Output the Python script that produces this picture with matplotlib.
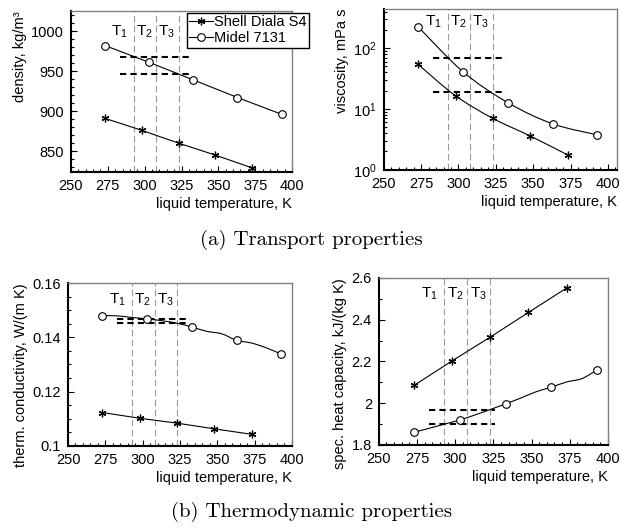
import numpy as np
import matplotlib
matplotlib.use('Agg')
import matplotlib.pyplot as plt
from matplotlib.path import Path
from matplotlib.patches import PathPatch
from matplotlib.ticker import MultipleLocator, FuncFormatter, LogLocator

plt.rcParams['font.family'] = ['Liberation Sans', 'DejaVu Sans']
plt.rcParams['mathtext.fontset'] = 'custom'
plt.rcParams['mathtext.rm'] = 'Liberation Sans'
plt.rcParams['mathtext.it'] = 'Liberation Sans:italic'
plt.rcParams['font.size'] = 10

# %%
# data
t_shell = [273, 298, 323, 348, 373]
t_midel = [273, 303, 333, 363, 393]
t_midel_fine = [273, 283, 293, 303, 313, 323, 333, 343, 353, 363, 373, 383, 393]

dens_shell = [891, 876, 860, 845, 829]
dens_midel = [982, 961, 939, 917, 896]

visc_shell = [54, 16.5, 7.0, 3.6, 1.76]
visc_midel = [224, 41, 12.7, 5.7, 3.75]

cond_shell = [0.1123, 0.1102, 0.1084, 0.1063, 0.1043]
cond_midel = [0.1480, 0.1468, 0.1438, 0.1389, 0.1338]
cond_midel_fine = [0.1480, 0.1479, 0.1473, 0.1468, 0.1461, 0.1452, 0.1438,
                   0.1422, 0.1413, 0.1389, 0.1379, 0.1361, 0.1338]

cp_shell = [2.085, 2.203, 2.317, 2.435, 2.552]
cp_midel = [1.861, 1.920, 1.997, 2.077, 2.160]
cp_midel_fine = [1.861, 1.880, 1.900, 1.920, 1.944, 1.970, 1.997,
                 2.025, 2.055, 2.077, 2.102, 2.118, 2.160]

# temperature bands and reference lines
t_bounds = [293, 308, 323]
t_names = ['T$_1$', 'T$_2$', 'T$_3$']
t_name_x = [283, 300, 315]
dens_ref = [968, 947]
visc_ref = [70, 18.8]
cond_ref = [0.1468, 0.1453]
cp_ref = [1.968, 1.902]
ref_span = [283, 332]
cp_ref_span = [283, 326]

# %%
star = (6, 2, 0)
mk_star = dict(marker=star, ms=5.5, mew=0.9)
mk_circ = dict(marker='o', ms=5.5, mfc='white', mew=0.8)


def smooth(ax, x, y, logy=False):
    # excel style smoothed line (bezier through the points)
    x = np.asarray(x, float)
    y = np.log10(y) if logy else np.asarray(y, float)
    n = len(x)
    verts = [(x[0], y[0])]
    codes = [Path.MOVETO]
    for i in range(n - 1):
        a = i - 1 if i > 0 else i
        b = i + 2 if i + 2 < n else i + 1
        verts.append((x[i] + (x[i + 1] - x[a]) / 6, y[i] + (y[i + 1] - y[a]) / 6))
        verts.append((x[i + 1] - (x[b] - x[i]) / 6, y[i + 1] - (y[b] - y[i]) / 6))
        verts.append((x[i + 1], y[i + 1]))
        codes += [Path.CURVE4] * 3
    verts = np.array(verts)
    if logy:
        verts[:, 1] = 10 ** verts[:, 1]
    ax.add_patch(PathPatch(Path(verts, codes), fill=False, ec='k', lw=0.8, zorder=3))


def style(ax, ylabel, xmax=400):
    ax.set_xlim(250, xmax)
    ax.set_xticks([250, 275, 300, 325, 350, 375, 400])
    ax.xaxis.set_minor_locator(MultipleLocator(5))
    ax.tick_params(which='both', direction='in', top=False, right=False, width=0.8, colors='k')
    ax.tick_params(which='major', length=4, pad=5, labelsize=10.5)
    ax.tick_params(which='minor', length=2)
    for s in ['left', 'bottom']:
        ax.spines[s].set_linewidth(1.5)
        ax.spines[s].set_color('k')
    for s in ['top', 'right']:
        ax.spines[s].set_linewidth(1.0)
        ax.spines[s].set_color('#808080')
    ax.set_xlabel('liquid temperature, K', loc='right', fontsize=10.5, labelpad=3)
    ax.set_ylabel(ylabel, loc='top', fontsize=10.5, labelpad=3)
    for tb in t_bounds:
        ax.axvline(tb, color='#999999', lw=0.8, ls=(0, (6, 3)), zorder=1)


def bands(ax, y_txt):
    tr = ax.get_xaxis_transform()
    for xx, nm in zip(t_name_x, t_names):
        ax.text(xx, y_txt, nm, transform=tr, ha='center', va='center', fontsize=11)


def refs(ax, vals, span):
    for v in vals:
        ax.plot(span, [v, v], color='k', lw=1.5, ls=(0, (3, 2)), zorder=2)


fig = plt.figure(figsize=(6.2, 5.29), dpi=100)

# %%
# (a) density
ax1 = fig.add_axes([0.1145, 0.675, 0.3565, 0.304])
l1, = ax1.plot(t_shell, dens_shell, color='k', lw=0.8, zorder=3, **mk_star)
l2, = ax1.plot(t_midel, dens_midel, color='k', lw=0.8, zorder=3, **mk_circ)
refs(ax1, dens_ref, ref_span)
ax1.set_ylim(824, 1025)
ax1.set_yticks([850, 900, 950, 1000])
ax1.yaxis.set_minor_locator(MultipleLocator(10))
style(ax1, 'density, kg/m³')
bands(ax1, 0.87)
fig.legend([l1, l2], ['Shell Diala S4', 'Midel 7131'], loc='upper left',
           bbox_to_anchor=(187 / 620, 1 - 13 / 529), fontsize=10.5, frameon=True,
           fancybox=False, edgecolor='k', framealpha=1, handlelength=1.6,
           handletextpad=0.1, borderpad=0.15, labelspacing=0.15, borderaxespad=0)

# %%
# (a) viscosity
ax2 = fig.add_axes([0.619, 0.679, 0.376, 0.304])
ax2.set_yscale('log')
smooth(ax2, t_shell, visc_shell, logy=True)
smooth(ax2, t_midel, visc_midel, logy=True)
ax2.plot(t_shell, visc_shell, ls='none', color='k', zorder=4, **mk_star)
ax2.plot(t_midel, visc_midel, ls='none', color='k', zorder=4, **mk_circ)
refs(ax2, visc_ref, ref_span)
ax2.set_ylim(1, 440)
ax2.yaxis.set_major_locator(LogLocator(base=10, numticks=5))
ax2.yaxis.set_minor_locator(LogLocator(base=10, subs=np.arange(2, 10), numticks=12))
style(ax2, 'viscosity, mPa s', xmax=406)
bands(ax2, 0.92)

# %%
# (b) thermal conductivity
ax3 = fig.add_axes([0.1097, 0.157, 0.361, 0.308])
ax3.plot(t_shell, cond_shell, color='k', lw=0.8, zorder=3, **mk_star)
smooth(ax3, t_midel_fine, cond_midel_fine)
ax3.plot(t_midel, cond_midel, ls='none', color='k', zorder=4, **mk_circ)
refs(ax3, cond_ref, ref_span)
ax3.set_ylim(0.1, 0.16)
ax3.set_yticks([0.1, 0.12, 0.14, 0.16])
ax3.yaxis.set_minor_locator(MultipleLocator(0.005))
ax3.yaxis.set_major_formatter(FuncFormatter(lambda v, p: '%g' % round(v, 3)))
style(ax3, 'therm. conductivity, W/(m K)')
bands(ax3, 0.896)

# %%
# (b) heat capacity
ax4 = fig.add_axes([0.611, 0.1588, 0.3694, 0.3157])
ax4.plot(t_shell, cp_shell, color='k', lw=0.8, zorder=3, **mk_star)
smooth(ax4, t_midel_fine, cp_midel_fine)
ax4.plot(t_midel, cp_midel, ls='none', color='k', zorder=4, **mk_circ)
refs(ax4, cp_ref, cp_ref_span)
ax4.set_ylim(1.8, 2.6)
ax4.set_yticks([1.8, 2.0, 2.2, 2.4, 2.6])
ax4.yaxis.set_minor_locator(MultipleLocator(0.1))
ax4.yaxis.set_major_formatter(FuncFormatter(lambda v, p: '%g' % round(v, 2)))
style(ax4, 'spec. heat capacity, kJ/(kg K)')
bands(ax4, 0.908)

# %%
# captions
fig.text(0.503, 1 - 240 / 529, '(a) Transport properties', family='cmr10', fontsize=15,
         ha='center', va='center')
fig.text(0.503, 1 - 512 / 529, '(b) Thermodynamic properties', family='cmr10', fontsize=15,
         ha='center', va='center')

fig.savefig('out.png', dpi=100)
